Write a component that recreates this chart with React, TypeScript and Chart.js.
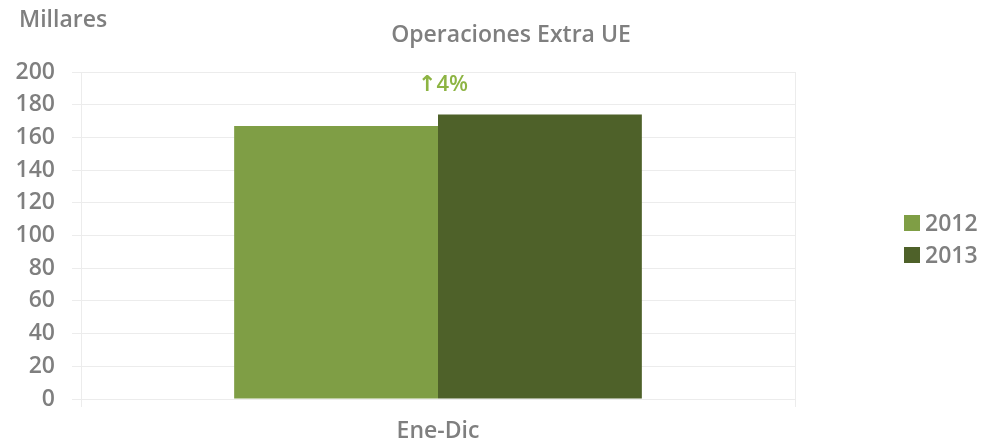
import React, { useEffect, useRef } from "react";
import { Chart, registerables } from "chart.js";

Chart.register(...registerables);

const categories = ["Ene-Dic"];
const seriesLabels = ["2012", "2013"];
const values2012 = [167];
const values2013 = [174];
const yTicks = [0, 20, 40, 60, 80, 100, 120, 140, 160, 180, 200];
const chartTitle = "Operaciones Extra UE";
const unitLabel = "Millares";
const changeLabel = "↑4%";

const GREY = "#7f7f7f";
const GRID = "#ececec";
const C2012 = "#7f9e45";
const C2013 = "#4e6129";
const FONT = "'Open Sans', 'DejaVu Sans', sans-serif";
const FS = 23;

const textPlugin = {
  id: "textPlugin",
  afterDraw(chart: any) {
    const ctx = chart.ctx;
    const x = chart.scales.x;
    const y = chart.scales.y;
    ctx.save();
    ctx.fillStyle = GREY;
    ctx.font = `600 ${FS}px ${FONT}`;
    ctx.textAlign = "left";
    ctx.textBaseline = "alphabetic";
    ctx.fillText(unitLabel, 19, 27);
    ctx.textAlign = "center";
    ctx.fillText(chartTitle, 511, 42);
    const cx = x.getPixelForValue(0) + 5;
    const cy = y.getPixelForValue(values2013[0]) - 24;
    ctx.fillStyle = "#8db443";
    ctx.font = `600 ${FS - 1}px ${FONT}`;
    ctx.fillText(changeLabel, cx, cy);
    const ds = chart.data.datasets;
    ds.forEach((d: any, i: number) => {
      const ly = 223 + i * 32;
      ctx.fillStyle = d.backgroundColor;
      ctx.fillRect(904, ly - 8, 16, 16);
      ctx.fillStyle = GREY;
      ctx.font = `600 ${FS}px ${FONT}`;
      ctx.textAlign = "left";
      ctx.textBaseline = "middle";
      ctx.fillText(d.label, 925, ly + 1);
    });
    ctx.restore();
  },
};

export default function App() {
  const ref = useRef<HTMLCanvasElement>(null);
  useEffect(() => {
    document.body.style.margin = "0";
    const chart = new Chart(ref.current!, {
      type: "bar",
      data: {
        labels: categories,
        datasets: [
          { label: seriesLabels[0], data: values2012, backgroundColor: C2012 },
          { label: seriesLabels[1], data: values2013, backgroundColor: C2013 },
        ],
      },
      options: {
        animation: false,
        responsive: false,
        devicePixelRatio: 1,
        layout: { padding: { top: 72, left: 0, right: 209, bottom: 0 } },
        datasets: { bar: { categoryPercentage: 0.571, barPercentage: 1 } },
        plugins: { legend: { display: false }, title: { display: false }, tooltip: { enabled: false } },
        scales: {
          x: {
            offset: true,
            grid: { display: true, offset: true, color: GRID, tickLength: 8 },
            border: { display: false },
            ticks: { color: GREY, font: { family: FONT, size: FS, weight: "600" }, padding: 11 },
            afterFit: (s: any) => { s.height = 48; },
          },
          y: {
            min: 0,
            max: 200,
            afterBuildTicks: (s: any) => { s.ticks = yTicks.map((v) => ({ value: v })); },
            grid: { color: GRID, tickLength: 9 },
            border: { display: false },
            ticks: { color: GREY, font: { family: FONT, size: FS, weight: "600" }, padding: 17 },
            afterFit: (s: any) => { s.width = 81; },
          },
        },
      },
      plugins: [textPlugin],
    });
    return () => chart.destroy();
  }, []);
  return <canvas ref={ref} width={1004} height={447} style={{ display: "block" }} />;
}
